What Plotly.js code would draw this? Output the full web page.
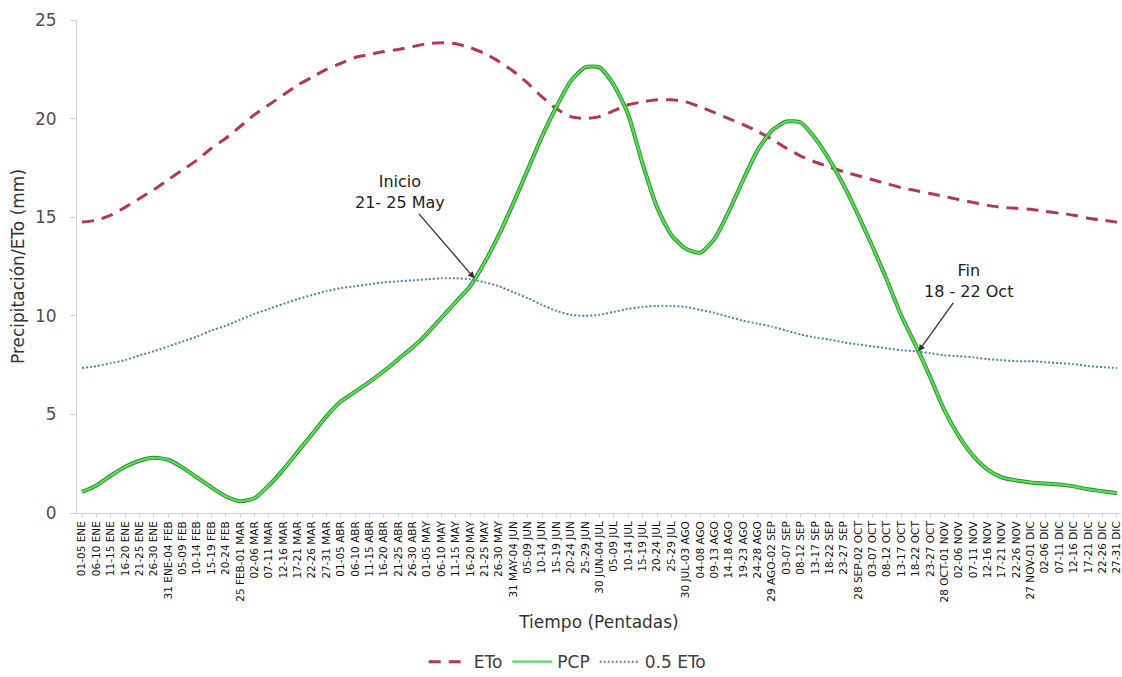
<!DOCTYPE html>
<html>
<head>
<meta charset="utf-8">
<script src="https://cdn.plot.ly/plotly-3.0.1.min.js"></script>
<style>html,body{margin:0;padding:0;background:#fff;}#chart{width:1122px;height:677px;}</style>
</head>
<body>
<div id="chart"></div>
<script>
const pentadas = [
 "01-05 ENE","06-10 ENE","11-15 ENE","16-20 ENE","21-25 ENE","26-30 ENE","31 ENE-04 FEB",
 "05-09 FEB","10-14 FEB","15-19 FEB","20-24 FEB","25 FEB-01 MAR",
 "02-06 MAR","07-11 MAR","12-16 MAR","17-21 MAR","22-26 MAR","27-31 MAR",
 "01-05 ABR","06-10 ABR","11-15 ABR","16-20 ABR","21-25 ABR","26-30 ABR",
 "01-05 MAY","06-10 MAY","11-15 MAY","16-20 MAY","21-25 MAY","26-30 MAY","31 MAY-04 JUN",
 "05-09 JUN","10-14 JUN","15-19 JUN","20-24 JUN","25-29 JUN","30 JUN-04 JUL",
 "05-09 JUL","10-14 JUL","15-19 JUL","20-24 JUL","25-29 JUL","30 JUL-03 AGO",
 "04-08 AGO","09-13 AGO","14-18 AGO","19-23 AGO","24-28 AGO","29 AGO-02 SEP",
 "03-07 SEP","08-12 SEP","13-17 SEP","18-22 SEP","23-27 SEP","28 SEP-02 OCT",
 "03-07 OCT","08-12 OCT","13-17 OCT","18-22 OCT","23-27 OCT","28 OCT-01 NOV",
 "02-06 NOV","07-11 NOV","12-16 NOV","17-21 NOV","22-26 NOV","27 NOV-01 DIC",
 "02-06 DIC","07-11 DIC","12-16 DIC","17-21 DIC","22-26 DIC","27-31 DIC"
];

const eto = [
 14.75,14.85,15.1,15.5,15.95,16.4,16.9,17.4,17.9,18.5,19.0,19.6,
 20.2,20.7,21.2,21.7,22.1,22.5,22.8,23.1,23.25,23.4,23.5,23.65,
 23.8,23.85,23.8,23.6,23.3,22.9,22.4,21.8,21.1,20.5,20.1,20.0,
 20.1,20.4,20.7,20.85,20.95,20.95,20.85,20.6,20.3,20.0,19.7,19.35,
 18.95,18.5,18.1,17.8,17.55,17.3,17.1,16.9,16.7,16.5,16.35,16.2,
 16.05,15.9,15.75,15.6,15.5,15.45,15.4,15.3,15.2,15.1,14.95,14.85,14.75
];

const pcp = [
 1.07,1.4,1.9,2.35,2.65,2.8,2.7,2.3,1.8,1.3,0.85,0.6,
 0.75,1.4,2.2,3.1,4.0,4.9,5.65,6.15,6.65,7.2,7.8,8.4,
 9.1,9.9,10.7,11.5,12.7,14.1,15.7,17.4,19.1,20.6,21.9,22.6,
 22.6,21.7,20.2,17.7,15.5,14.1,13.4,13.2,13.9,15.3,16.9,18.4,
 19.4,19.85,19.8,19.0,17.9,16.6,15.1,13.5,11.8,10.0,8.5,6.9,
 5.2,3.9,2.9,2.2,1.8,1.65,1.55,1.5,1.45,1.35,1.2,1.1,1.0
];

const medioEto = [
 7.35,7.45,7.6,7.75,8.0,8.2,8.45,8.7,8.95,9.25,9.5,9.8,
 10.1,10.35,10.6,10.85,11.05,11.25,11.4,11.5,11.6,11.7,11.75,11.8,
 11.85,11.9,11.9,11.85,11.7,11.5,11.2,10.9,10.55,10.25,10.05,10.0,
 10.05,10.2,10.35,10.45,10.5,10.5,10.45,10.3,10.15,9.95,9.75,9.6,
 9.45,9.25,9.05,8.9,8.8,8.65,8.55,8.45,8.35,8.25,8.2,8.1,
 8.0,7.95,7.9,7.8,7.75,7.7,7.7,7.65,7.6,7.55,7.45,7.4,7.35
];

const seriesNames = ["ETo", "PCP", "0.5 ETo"];
const inicio = {label: "Inicio<br>21- 25 May", x: 27.3, y: 11.9};
const fin = {label: "Fin<br>18 - 22 Oct", x: 58.2, y: 8.2};

const FONT = "DejaVu Sans, Verdana, sans-serif";

const traces = [
 {x: pentadas, y: eto, name: seriesNames[0], type: "scatter", mode: "lines",
  line: {color: "#B5384F", width: 3, dash: "12px,8px", shape: "spline", smoothing: 0.6}},
 {x: pentadas, y: pcp, name: seriesNames[1], type: "scatter", mode: "lines",
  legendgroup: "pcp", showlegend: false, hoverinfo: "skip",
  line: {color: "#2E8B2E", width: 4, shape: "spline", smoothing: 0.6}},
 {x: pentadas, y: pcp, name: seriesNames[1], type: "scatter", mode: "lines",
  legendgroup: "pcp",
  line: {color: "#55E055", width: 2.2, shape: "spline", smoothing: 0.6}},
 {x: pentadas, y: medioEto, name: seriesNames[2], type: "scatter", mode: "lines",
  line: {color: "#4A8C9C", width: 2, dash: "2px,2px", shape: "spline", smoothing: 0.6}}
];

const layout = {
 width: 1122, height: 677,
 margin: {l: 77, r: 1, t: 20, b: 164},
 paper_bgcolor: "#ffffff", plot_bgcolor: "#ffffff",
 font: {family: FONT, color: "#404040"},
 showlegend: true,
 legend: {orientation: "h", x: 0.47, xanchor: "center", yref: "container", y: 0.022, yanchor: "middle",
  font: {family: FONT, size: 17, color: "#404040"}, traceorder: "normal", itemwidth: 40},
 xaxis: {
  type: "category", range: [-0.35, 72.28], autorange: false,
  showgrid: false, zeroline: false,
  showline: true, linecolor: "#D0D0D0", linewidth: 1,
  ticks: "outside", ticklen: 3, tickcolor: "#D0D0D0",
  tickangle: -90, tickfont: {family: FONT, size: 10.5, color: "#111111"},
  title: {text: "Tiempo (Pentadas)", font: {family: FONT, size: 17, color: "#333333"}, standoff: 14}
 },
 yaxis: {
  range: [0, 25], autorange: false, dtick: 5,
  showgrid: false, zeroline: false,
  showline: true, linecolor: "#D0D0D0", linewidth: 1,
  ticks: "outside", ticklen: 6, tickcolor: "#D0D0D0",
  ticklabelstandoff: 10,
  tickfont: {family: FONT, size: 17, color: "#505050"},
  title: {text: "Precipitación/ETo (mm)", font: {family: FONT, size: 17, color: "#333333"}, standoff: 6}
 },
 annotations: [
  {x: inicio.x, y: inicio.y, xref: "x", yref: "y", text: inicio.label, showarrow: true,
   ax: -74, ay: -86, arrowhead: 2, arrowsize: 1, arrowwidth: 1.3, arrowcolor: "#333333",
   font: {family: FONT, size: 16, color: "#222222"}, align: "center"},
  {x: fin.x, y: fin.y, xref: "x", yref: "y", text: fin.label, showarrow: true,
   ax: 50, ay: -70, arrowhead: 2, arrowsize: 1, arrowwidth: 1.3, arrowcolor: "#333333",
   font: {family: FONT, size: 16, color: "#222222"}, align: "center"}
 ]
};

Plotly.newPlot("chart", traces, layout, {displayModeBar: false, responsive: false});
</script>
</body>
</html>
